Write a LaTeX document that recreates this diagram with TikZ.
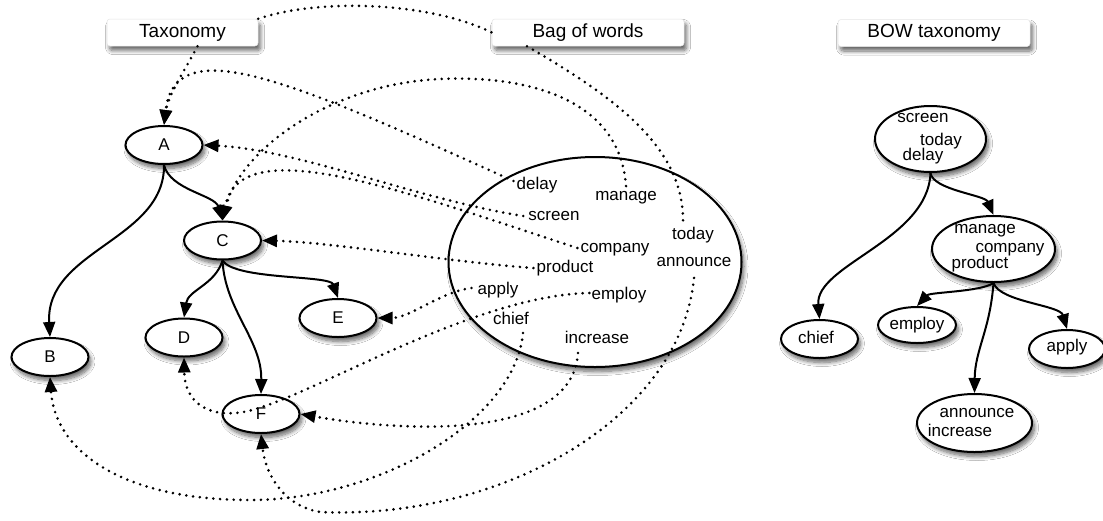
\documentclass[tikz,border=0pt]{standalone}
\usepackage{fontspec}
\setmainfont{Liberation Sans}
\usetikzlibrary{arrows.meta,shapes.geometric,shadows.blur}

\begin{document}
\begin{tikzpicture}[x=1pt,y=-1pt,
  tip/.style={-{Triangle[length=15pt,width=12pt]}},
  edge/.style={line width=2pt, tip},
  dots/.style={line width=2.9pt, line cap=round, dash pattern=on 0pt off 6.8pt},
  link/.style={dots, tip},
  softshadow/.style={blur shadow={shadow xshift=2.5pt, shadow yshift=-4.5pt,
      shadow blur steps=8, shadow blur radius=4pt, shadow opacity=60}},
  oval/.style={ellipse, draw, line width=2pt, fill=white, inner sep=0pt,
      font=\fontsize{17}{17}\selectfont, softshadow},
  word/.style={inner sep=0pt, font=\fontsize{17}{17}\selectfont,
      text height=12pt, text depth=3.5pt},
  title/.style={rectangle, rounded corners=3pt, fill=white, draw=black!10,
      line width=0.5pt, inner sep=0pt, minimum height=27pt,
      font=\fontsize{19}{19}\selectfont, softshadow}
]
% canvas
\fill[white] (0,0) rectangle (1103,520);
\useasboundingbox (0,0) rectangle (1103,520);

% ---------- taxonomy ----------
\node[oval, minimum width=77pt, minimum height=38pt] (A) at (164,145) {A};
\node[oval, minimum width=77pt, minimum height=38pt] (C) at (222.5,240.5) {C};
\node[oval, minimum width=77pt, minimum height=38pt] (B) at (50,357) {B};
\node[oval, minimum width=77pt, minimum height=38pt] (D) at (184,337.5) {D};
\node[oval, minimum width=77pt, minimum height=38pt] (E) at (338,318) {E};
\node[oval, minimum width=77pt, minimum height=38pt] (F) at (261,414) {F};

\draw[edge] (A.south) .. controls (170,190) and (215,195) .. (C.north);
\draw[edge] (A.south) .. controls (165,240) and (45,250) .. (B.north);
\draw[edge] (C.south) .. controls (215,285) and (188,290) .. (D.north);
\draw[edge] (C.south) .. controls (225,310) and (262,340) .. (F.north);
\draw[edge] (C.south) .. controls (235,280) and (330,275) .. (E.north);

% ---------- bag of words ----------
\node[oval, minimum width=293pt, minimum height=210pt] (bow) at (595,262) {};
\node[word] (delay)    at (537,185) {delay};
\node[word] (manage)   at (626,196) {manage};
\node[word] (screen)   at (554,216) {screen};
\node[word] (today)    at (693,235) {today};
\node[word] (company)  at (615,248) {company};
\node[word] (announce) at (694,262) {announce};
\node[word] (product)  at (565,268) {product};
\node[word] (apply)    at (498,290) {apply};
\node[word] (employ)   at (619,295) {employ};
\node[word] (chief)    at (511,320) {chief};
\node[word] (increase) at (597,339) {increase};

% ---------- title boxes ----------
\node[title, minimum width=151pt] (taxtitle) at (182.5,32.5) {Taxonomy};
\node[title, minimum width=192pt] (bagtitle) at (588,32.5) {Bag of words};
\node[title, minimum width=192pt] (bowtitle) at (934,33) {BOW taxonomy};

% ---------- word-to-concept links ----------
\draw[link] ([xshift=15pt]taxtitle.south) .. controls (185,70) and (168,95) .. (A.north);
\draw[dots] (taxtitle.north east) .. controls (320,-2) and (430,2) .. (bagtitle.west);
\draw[dots] ([xshift=-61pt]bagtitle.south) .. controls (620,100) and (685,150) .. ([xshift=-10pt,yshift=3pt]today.north);

\draw[link] ([shift={(-3pt,4pt)}]delay.west) .. controls (290,80) and (175,30) .. (A.north);
\draw[link] ([xshift=-5pt]screen.west) .. controls (420,200) and (300,150) .. (A.east);
\draw[link] ([yshift=2pt]manage.north) .. controls (620,100) and (530,75) .. (440,79)
            .. controls (330,84) and (240,150) .. (C.north);
\draw[link] ([xshift=-3pt]company.west) .. controls (400,190) and (240,130) .. (C.north);
\draw[link] ([xshift=-3pt]product.west) .. controls (450,262) and (330,242) .. (C.east);
\draw[link] ([shift={(-6pt,2pt)}]apply.west) .. controls (440,292) and (410,318) .. (E.east);
\draw[link] ([shift={(-2pt,2pt)}]employ.west) .. controls (480,295) and (330,385) .. (262,407)
            .. controls (220,422) and (185,410) .. (D.south);
\draw[link] ([shift={(12pt,-5pt)}]chief.south) .. controls (515,420) and (380,500) .. (250,500)
            .. controls (120,500) and (55,450) .. (B.south);
\draw[link] ([shift={(-19pt,-6pt)}]increase.south) .. controls (572,445) and (390,430) .. (F.east);
\draw[link] ([yshift=-8pt]announce.south) .. controls (680,420) and (500,520) .. (320,512)
            .. controls (280,505) and (265,470) .. (F.south);

% ---------- BOW taxonomy ----------
\node[oval, minimum width=111pt, minimum height=66pt] (root) at (930.5,139) {};
\node[word] (rscreen) at (923,118) {screen};
\node[word] (rtoday)  at (941,141) {today};
\node[word] (rdelay)  at (923,156) {delay};

\node[oval, minimum width=123pt, minimum height=66pt] (mid) at (993.5,249) {};
\node[word] (mmanage)  at (985,229) {manage};
\node[word] (mcompany) at (1010,248) {company};
\node[word] (mproduct) at (980,264) {product};

\node[oval, minimum width=77pt, minimum height=38pt] (lchief) at (819.5,339) {};
\node[word] (tchief) at (816,339) {chief};
\node[oval, minimum width=78pt, minimum height=36pt] (lemploy) at (917,325) {};
\node[word] (temploy) at (917,325) {employ};
\node[oval, minimum width=76pt, minimum height=38pt] (lapply) at (1067,349) {};
\node[word] (tapply) at (1067,347) {apply};
\node[oval, minimum width=115pt, minimum height=58pt] (low) at (974.5,423) {};
\node[word] (lannounce) at (977,413) {announce};
\node[word] (lincrease) at (960,432) {increase};

\draw[edge] (root.south) .. controls (933,190) and (985,195) .. (mid.north);
\draw[edge] (root.south) .. controls (928,240) and (815,265) .. (lchief.north);
\draw[edge] (mid.south) .. controls (980,292) and (930,292) .. (lemploy.north);
\draw[edge] (mid.south) .. controls (990,330) and (975,350) .. (low.north);
\draw[edge] (mid.south) .. controls (1000,302) and (1060,305) .. (lapply.north);
\end{tikzpicture}
\end{document}
